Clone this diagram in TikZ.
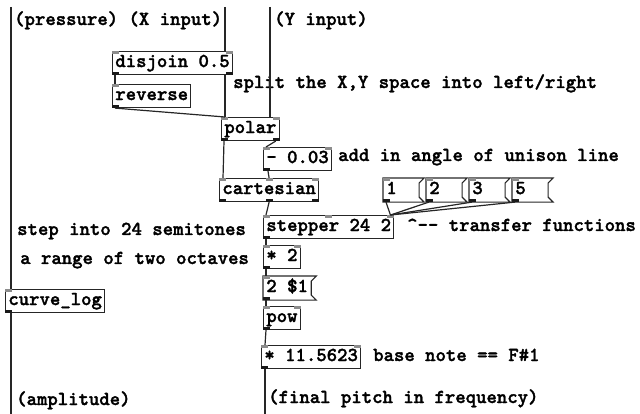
\documentclass[tikz,border=0pt]{standalone}
\usepackage{fontspec}
\usetikzlibrary{calc}
\newfontfamily\pdmono{lmmonolt10-bold.otf}[FakeBold=1.6]
\newcommand{\pdfont}{\fontsize{19.8}{22}\selectfont\pdmono}
% small inlet / outlet tabs on a box
\newcommand{\ports}[3]{%
  \foreach \f in {#2} {\fill[inlet] ($(#1.north west)!\f!([xshift=-7pt]#1.north east)$) rectangle ++(7pt,-3pt);}
  \foreach \f in {#3} {\fill[outlet] ($(#1.south west)!\f!([xshift=-7pt]#1.south east)$) rectangle ++(7pt,3pt);}}
% message box outline with its flag
\newcommand{\msgflag}[1]{%
  \draw[boxline] (#1.north west) -- ([xshift=5pt]#1.north east) -- ([yshift=-5pt]#1.north east)
    -- ([yshift=5pt]#1.south east) -- ([xshift=5pt]#1.south east) -- (#1.south west) -- cycle;}
\tikzset{
  boxline/.style={draw=black!85, line width=1.1pt},
  obj/.style={boxline, rectangle, anchor=north west, font=\pdfont, inner xsep=2.8pt,
    inner ysep=0pt, minimum height=23pt, text height=11pt, text depth=3pt},
  msg/.style={obj, draw=none},
  num/.style={msg, text width=29.4pt, align=left},
  note/.style={anchor=base west, inner sep=0pt, font=\pdfont},
  wire/.style={draw=black!85, line width=1.2pt},
  inlet/.style={fill=black!45},
  outlet/.style={fill=black!90},
}
\begin{document}
\begin{tikzpicture}[x=1pt, y=-1pt]
  \useasboundingbox (0,0) rectangle (640,414);
  % objects
  \node[obj] (disjoin) at (112,51) {disjoin 0.5};
  \node[obj] (reverse) at (112,84) {reverse};
  \node[obj] (polar) at (221,117) {polar};
  \node[obj] (minus) at (263,147) {- 0.03};
  \node[obj] (cartesian) at (219,178) {cartesian};
  \node[obj] (stepper) at (263,215) {stepper 24 2};
  \node[obj] (times) at (263,245) {* 2};
  \node[msg] (expo) at (263,276) {2 \$1};
  \node[obj] (pow) at (263,306) {pow};
  \node[obj] (base) at (261,345) {* 11.5623};
  \node[obj] (curve) at (5,289) {curve\_log};
  \foreach \v [count=\i] in {1,2,3,5}
    \node[num] (m\v) at (340+43*\i,178) {\v};
  \msgflag{expo}
  \foreach \v in {1,2,3,5} {\msgflag{m\v}}
  % tabs
  \ports{disjoin}{0,1}{0,1}
  \ports{reverse}{0}{0}
  \ports{polar}{0,1}{0,1}
  \ports{minus}{0,1}{0}
  \ports{cartesian}{0,0.5,1}{0,0.5,1}
  \ports{stepper}{0,0.5,1}{0}
  \ports{times}{0,1}{0}
  \ports{pow}{0,1}{0}
  \ports{base}{0,1}{0}
  \ports{curve}{0}{0}
  \ports{expo}{0}{0}
  \foreach \v in {1,2,3,5} {\ports{m\v}{0}{0}}
  % comments
  \node[note] (lpress) at (14,25) {(pressure) (X input)};
  \node[note] (ly) at (274,25) {(Y input)};
  \node[note] (lsplit) at (233,88) {split the X,Y space into left/right};
  \node[note] (langle) at (338,161) {add in angle of unison line};
  \node[note] (ltrans) at (407,231) {\textasciicircum-{}- transfer functions};
  \node[note] (lstep) at (17,235) {step into 24 semitones};
  \node[note] (lrange) at (20,264) {a range of two octaves};
  \node[note] (lbase) at (373,361) {base note == F\#1};
  \node[note] (lfreq) at (268,403) {(final pitch in frequency)};
  \node[note] (lamp) at (16,405) {(amplitude)};
  % patch cords
  \coordinate (ptop) at (11,7);
  \coordinate (xtop) at (225,7);
  \coordinate (ytop) at (270,7);
  \coordinate (ampout) at (11,414);
  \coordinate (freqout) at (265,414);
  \draw[wire] (ptop) -- (ptop |- curve.north);
  \draw[wire] (ptop |- curve.south) -- (ampout);
  \draw[wire] (xtop) -- (xtop |- disjoin.north);
  \draw[wire] (ytop) -- (ytop |- polar.north);
  \draw[wire] (xtop |- disjoin.south) -- (xtop |- polar.north);
  \draw[wire] ([xshift=3pt]disjoin.south west) -- ([xshift=3pt]reverse.north west);
  \draw[wire] ([xshift=3pt]reverse.south west) -- ([xshift=4pt]polar.north west);
  \draw[wire] ([xshift=3pt]polar.south west) -- ([xshift=4pt]cartesian.north west);
  \draw[wire] ([xshift=-4pt]polar.south east) -- ([xshift=3pt]minus.north west);
  \draw[wire] ([xshift=5pt]minus.south west) -- (cartesian.north);
  \draw[wire] (cartesian.south) -- ([xshift=3pt]stepper.north west);
  \foreach \v in {1,2,3,5}
    \draw[wire] ([xshift=3pt]m\v.south west) -- ([xshift=-4pt]stepper.north east);
  \draw[wire] ([xshift=3pt]stepper.south west) -- ([xshift=3pt]times.north west);
  \draw[wire] ([xshift=3pt]times.south west) -- ([xshift=3pt]expo.north west);
  \draw[wire] ([xshift=3pt]expo.south west) -- ([xshift=3pt]pow.north west);
  \draw[wire] ([xshift=3pt]pow.south west) -- ([xshift=4pt]base.north west);
  \draw[wire] ([xshift=4pt]base.south west) -- (freqout);
\end{tikzpicture}
\end{document}
